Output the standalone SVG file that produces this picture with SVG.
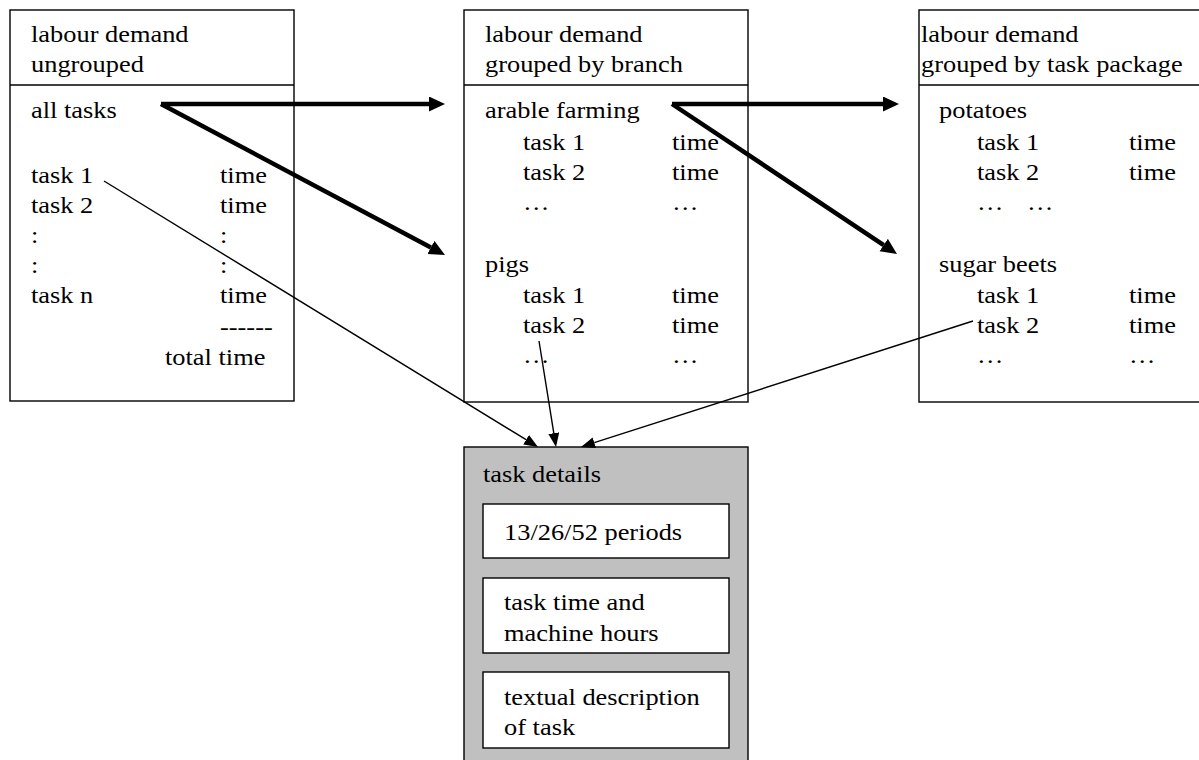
<svg xmlns="http://www.w3.org/2000/svg" width="1199" height="760" viewBox="0 0 1199 760">
<style>
text{font-family:'Liberation Serif','Tinos','Times New Roman','DejaVu Serif',serif;font-size:24px;fill:#000}
.box{fill:#fff;stroke:#000;stroke-width:1.4}
.grey{fill:#c0c0c0;stroke:#000;stroke-width:1.4}
.thick{stroke:#000;stroke-width:4.5;fill:none;marker-end:url(#hb)}
.thin{stroke:#000;stroke-width:1.4;fill:none;marker-end:url(#hs)}
</style>
<defs>
<marker id="hb" markerUnits="userSpaceOnUse" markerWidth="18" markerHeight="16" refX="0" refY="7.5" orient="auto"><path d="M0,0 L16,7.5 L0,15 z" fill="#000"/></marker>
<marker id="hs" markerUnits="userSpaceOnUse" markerWidth="16" markerHeight="12" refX="0" refY="5.5" orient="auto"><path d="M0,0 L14,5.5 L0,11 z" fill="#000"/></marker>
</defs>
<rect width="1199" height="760" fill="#fff"/>
<g font-family="Liberation Serif, serif" font-size="24">
<g id="ungrouped">
<rect class="box" x="10" y="10" width="284" height="391"/>
<line x1="10" y1="85" x2="294" y2="85" stroke="#000" stroke-width="1.4"/>
<text transform="matrix(1.1 0 0 1 31 42)">labour demand</text>
<text transform="matrix(1.1 0 0 1 31 72)">ungrouped</text>
<text transform="matrix(1.1 0 0 1 31 118)">all tasks</text>
<text transform="matrix(1.1 0 0 1 31 183)">task 1</text>
<text transform="matrix(1.1 0 0 1 31 213)">task 2</text>
<text transform="matrix(1.1 0 0 1 31 243)">:</text>
<text transform="matrix(1.1 0 0 1 31 273)">:</text>
<text transform="matrix(1.1 0 0 1 31 303)">task n</text>
<text transform="matrix(1.1 0 0 1 220 183)">time</text>
<text transform="matrix(1.1 0 0 1 220 213)">time</text>
<text transform="matrix(1.1 0 0 1 220 243)">:</text>
<text transform="matrix(1.1 0 0 1 220 273)">:</text>
<text transform="matrix(1.1 0 0 1 220 303)">time</text>
<text transform="matrix(1.1 0 0 1 220 335)">------</text>
<text transform="matrix(1.1 0 0 1 165 365)">total time</text>
</g>
<g id="branch">
<rect class="box" x="464" y="10" width="284" height="392"/>
<line x1="464" y1="85" x2="748" y2="85" stroke="#000" stroke-width="1.4"/>
<text transform="matrix(1.1 0 0 1 485 42)">labour demand</text>
<text transform="matrix(1.1 0 0 1 485 72)">grouped by branch</text>
<text transform="matrix(1.1 0 0 1 485 118)">arable farming</text>
<text transform="matrix(1.1 0 0 1 523 150)">task 1</text>
<text transform="matrix(1.1 0 0 1 523 180)">task 2</text>
<text transform="matrix(1.1 0 0 1 523 210)">…</text>
<text transform="matrix(1.1 0 0 1 672 150)">time</text>
<text transform="matrix(1.1 0 0 1 672 180)">time</text>
<text transform="matrix(1.1 0 0 1 672 210)">…</text>
<text transform="matrix(1.1 0 0 1 485 272)">pigs</text>
<text transform="matrix(1.1 0 0 1 523 303)">task 1</text>
<text transform="matrix(1.1 0 0 1 523 333)">task 2</text>
<text transform="matrix(1.1 0 0 1 523 363)">…</text>
<text transform="matrix(1.1 0 0 1 672 303)">time</text>
<text transform="matrix(1.1 0 0 1 672 333)">time</text>
<text transform="matrix(1.1 0 0 1 672 363)">…</text>
</g>
<g id="package">
<rect class="box" x="919" y="10" width="290" height="392"/>
<line x1="919" y1="85" x2="1199" y2="85" stroke="#000" stroke-width="1.4"/>
<text transform="matrix(1.1 0 0 1 921 42)">labour demand</text>
<text transform="matrix(1.1 0 0 1 921 72)">grouped by task package</text>
<text transform="matrix(1.1 0 0 1 939 118)">potatoes</text>
<text transform="matrix(1.1 0 0 1 977 150)">task 1</text>
<text transform="matrix(1.1 0 0 1 977 180)">task 2</text>
<text transform="matrix(1.1 0 0 1 977 210)">…</text>
<text transform="matrix(1.1 0 0 1 1027 210)">…</text>
<text transform="matrix(1.1 0 0 1 1129 150)">time</text>
<text transform="matrix(1.1 0 0 1 1129 180)">time</text>
<text transform="matrix(1.1 0 0 1 939 272)">sugar beets</text>
<text transform="matrix(1.1 0 0 1 977 303)">task 1</text>
<text transform="matrix(1.1 0 0 1 977 333)">task 2</text>
<text transform="matrix(1.1 0 0 1 977 363)">…</text>
<text transform="matrix(1.1 0 0 1 1129 303)">time</text>
<text transform="matrix(1.1 0 0 1 1129 333)">time</text>
<text transform="matrix(1.1 0 0 1 1129 363)">…</text>
</g>
<g id="details">
<rect class="grey" x="464" y="447" width="284" height="330"/>
<text transform="matrix(1.1 0 0 1 483 482)">task details</text>
<rect class="box" x="483" y="504" width="246" height="54"/>
<text transform="matrix(1.1 0 0 1 504 540)">13/26/52 periods</text>
<rect class="box" x="483" y="578" width="246" height="75"/>
<text transform="matrix(1.1 0 0 1 504 610)">task time and</text>
<text transform="matrix(1.1 0 0 1 504 641)">machine hours</text>
<rect class="box" x="483" y="672" width="246" height="76"/>
<text transform="matrix(1.1 0 0 1 504 705)">textual description</text>
<text transform="matrix(1.1 0 0 1 504 735)">of task</text>
</g>
</g>
<g id="connectors">
<path class="thick" d="M161,104 L429,104"/>
<path class="thick" d="M161,104 L430.9,247.5"/>
<path class="thick" d="M672,104 L883,104"/>
<path class="thick" d="M672,104 L883.7,245.1"/>
<path class="thin" d="M104,181 L526.1,439.7"/>
<path class="thin" d="M539,341 L553.8,433.2"/>
<path class="thin" d="M973,321 L594.3,442.7"/>
</g>
</svg>
